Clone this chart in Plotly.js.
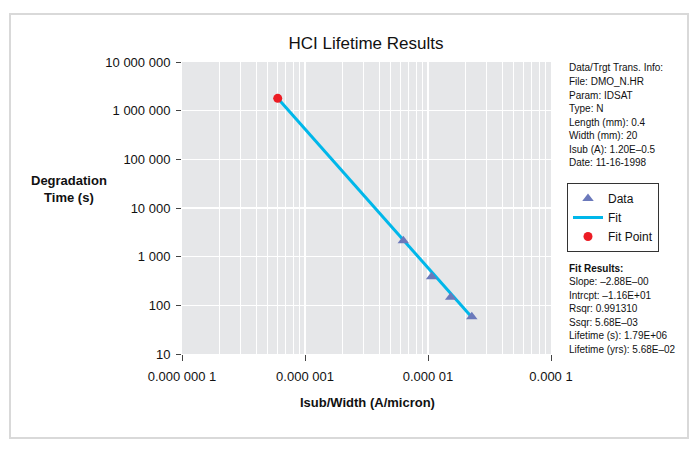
<!DOCTYPE html>
<html>
<head>
<meta charset="utf-8">
<script src="https://cdn.plot.ly/plotly-3.0.1.min.js"></script>
<style>
  html, body { margin: 0; padding: 0; background: #ffffff; }
  #chart { width: 699px; height: 450px; }
</style>
</head>
<body>
<div id="chart"></div>
<script>
// ---- data ----
var dataX = [6.3e-6, 1.07e-5, 1.53e-5, 2.27e-5];   // Isub/Width (A/micron)
var dataY = [2130, 388, 146, 58.5];                // Degradation time (s)
var fitX = [6.0e-7, 2.3e-5];
var fitY = [1.79e6, 55];
var fitPointX = [6.0e-7];
var fitPointY = [1.79e6];

var xTickVals = [1e-7, 1e-6, 1e-5, 1e-4];
var xTickText = ['0.000 000 1', '0.000 001', '0.000 01', '0.000 1'];
var yTickVals = [10, 100, 1000, 10000, 100000, 1000000, 10000000];
var yTickText = ['10', '100', '1 000', '10 000', '100 000', '1 000 000', '10 000 000'];

var infoLines = ['Data/Trgt Trans. Info:', 'File: DMO_N.HR', 'Param: IDSAT', 'Type: N',
                 'Length (mm): 0.4', 'Width (mm): 20', 'Isub (A): 1.20E\u20130.5', 'Date: 11-16-1998'];
var fitLines = ['<b>Fit Results:</b>', 'Slope: \u20132.88E\u201300', 'Intrcpt: \u20131.16E+01', 'Rsqr: 0.991310',
                'Ssqr: 5.68E\u201303', 'Lifetime (s): 1.79E+06', 'Lifetime (yrs): 5.68E\u201302'];

// ---- geometry ----
var W = 699, H = 450;
var L = 182, R = 148, T = 62, B = 96;
var pw = W - L - R, ph = H - T - B;
function px(x) { return (x - L) / pw; }
function py(y) { return (H - B - y) / ph; }

var FONT = 'Liberation Sans, Arial, Helvetica, sans-serif';

// minor gridlines at 2..9 of each decade
var minorVals = [];
for (var d = -7; d < -4; d++) {
  for (var k = 2; k <= 9; k++) minorVals.push(k * Math.pow(10, d));
}

var traces = [
  {
    x: fitX, y: fitY, type: 'scatter', mode: 'lines', name: 'Fit',
    line: { color: '#00b7ea', width: 3 }, legendrank: 2
  },
  {
    x: dataX, y: dataY, type: 'scatter', mode: 'markers', name: 'Data',
    marker: { symbol: 'triangle-up', size: 10, color: '#6b79bb' }, legendrank: 1
  },
  {
    x: fitPointX, y: fitPointY, type: 'scatter', mode: 'markers', name: 'Fit Point',
    marker: { symbol: 'circle', size: 9, color: '#ec1c24' }, legendrank: 3
  }
];

var annotations = [];
infoLines.forEach(function (t, i) {
  annotations.push({
    xref: 'paper', yref: 'paper', x: px(567), y: py(68 + i * 13.5),
    xanchor: 'left', yanchor: 'middle', showarrow: false, text: t,
    font: { family: FONT, size: 10, color: '#111' }
  });
});
fitLines.forEach(function (t, i) {
  annotations.push({
    xref: 'paper', yref: 'paper', x: px(567), y: py(268 + i * 13.5),
    xanchor: 'left', yanchor: 'middle', showarrow: false, text: t,
    font: { family: FONT, size: 10, color: '#111' }
  });
});
annotations.push({
  xref: 'paper', yref: 'paper', x: px(69), y: py(189),
  xanchor: 'center', yanchor: 'middle', showarrow: false,
  text: '<b>Degradation<br>Time (s)</b>', align: 'center',
  font: { family: FONT, size: 13, color: '#111' }
});
annotations.push({
  xref: 'paper', yref: 'paper', x: px(367), y: py(402),
  xanchor: 'center', yanchor: 'middle', showarrow: false,
  text: '<b>Isub/Width (A/micron)</b>',
  font: { family: FONT, size: 13, color: '#111' }
});

var layout = {
  width: W, height: H,
  margin: { l: L, r: R, t: T, b: B, pad: 0 },
  paper_bgcolor: '#ffffff',
  plot_bgcolor: '#e6e7e9',
  font: { family: FONT, size: 13, color: '#111' },
  title: {
    text: 'HCI Lifetime Results',
    font: { family: FONT, size: 17, color: '#111' },
    xref: 'container', yref: 'container',
    x: 366 / W, y: 1 - 43 / H, xanchor: 'center', yanchor: 'middle'
  },
  showlegend: true,
  legend: {
    x: px(567), y: py(183), xanchor: 'left', yanchor: 'top',
    bordercolor: '#333', borderwidth: 1, bgcolor: '#ffffff',
    font: { family: FONT, size: 12, color: '#111' },
    itemwidth: 30, traceorder: 'normal',
    tracegroupgap: 0
  },
  xaxis: {
    type: 'log', range: [-7, -4],
    tickmode: 'array', tickvals: xTickVals, ticktext: xTickText,
    ticks: 'outside', ticklen: 6, tickcolor: '#444', tickwidth: 1,
    ticklabelstandoff: 4,
    showgrid: true, gridcolor: '#ffffff', gridwidth: 1.5,
    minor: { tickmode: 'array', tickvals: minorVals, showgrid: true, gridcolor: '#ffffff', gridwidth: 1, ticks: '' },
    showline: false, zeroline: false,
    tickfont: { family: FONT, size: 13, color: '#111' }
  },
  yaxis: {
    type: 'log', range: [1, 7],
    tickmode: 'array', tickvals: yTickVals, ticktext: yTickText,
    ticks: 'outside', ticklen: 5, tickcolor: '#444', tickwidth: 1,
    ticklabelstandoff: 3,
    showgrid: true, gridcolor: '#ffffff', gridwidth: 1.5,
    showline: false, zeroline: false,
    tickfont: { family: FONT, size: 13, color: '#111' }
  },
  annotations: annotations,
  shapes: [{
    type: 'rect', xref: 'paper', yref: 'paper',
    x0: px(10), x1: px(688), y0: py(438), y1: py(14),
    line: { color: '#d9d9d9', width: 2 }, fillcolor: 'rgba(0,0,0,0)', layer: 'below'
  }]
};

Plotly.newPlot('chart', traces, layout, { displayModeBar: false, staticPlot: true });
</script>
</body>
</html>
